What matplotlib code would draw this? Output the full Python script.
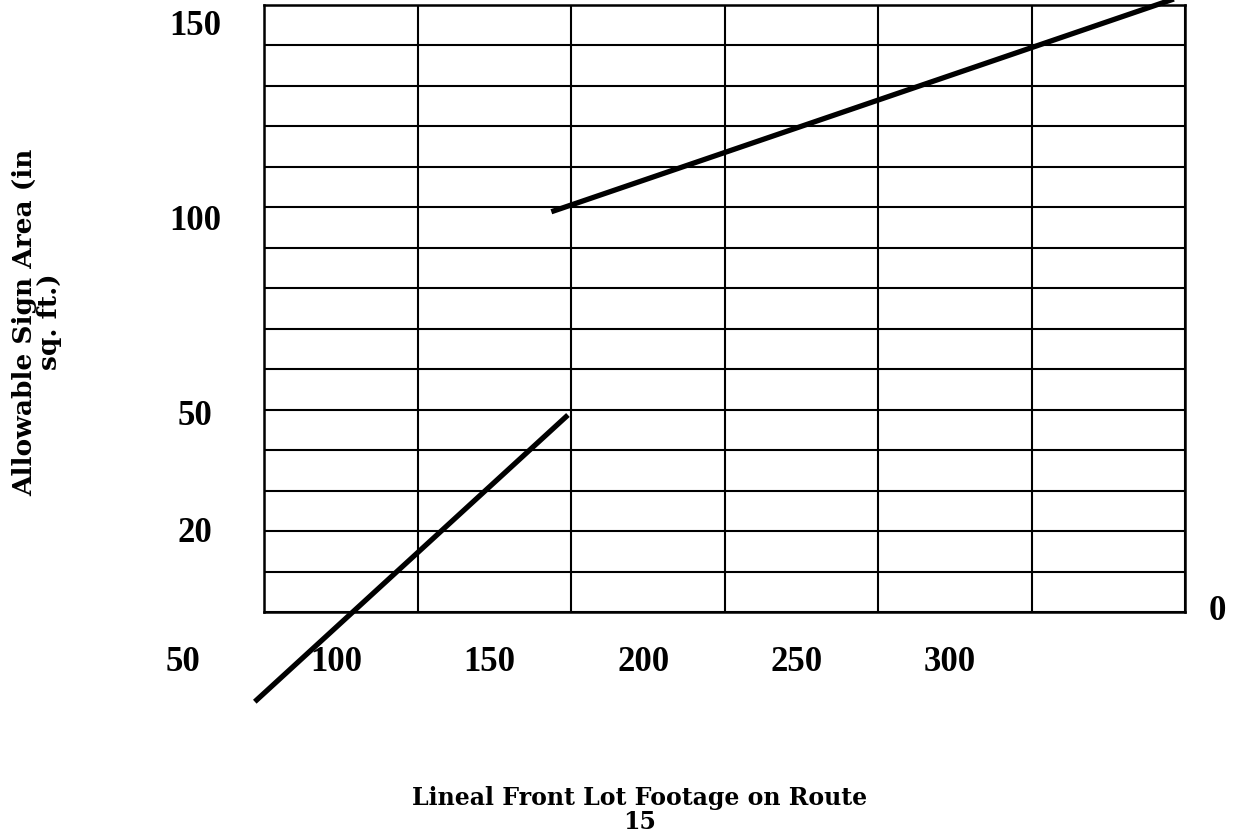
import matplotlib.pyplot as plt
import matplotlib.transforms as mtransforms
import numpy as np

# tick labels as printed on the chart
x_labels = [50, 100, 150, 200, 250, 300]
y_labels = [150, 100, 50, 20]
right_label = 0

# the two line segments (lot footage, sign area)
seg1_x = [72, 174]
seg1_y = [-23, 50.5]
seg2_x = [168.6, 382]
seg2_y = [102.6, 160]

x_min, x_max = 75, 375
y_min, y_max = 0, 155.6

fig = plt.figure(figsize=(12.33, 8.34), dpi=100)
ax = fig.add_axes([264 / 1233, 1 - 612 / 834, 921 / 1233, 607 / 834])
ax.set_xlim(x_min, x_max)
ax.set_ylim(y_min, y_max)

# grid: 6 columns, 15 rows
ax.set_xticks(np.arange(x_min, x_max + 1, 50))
ax.set_yticks(np.linspace(y_min, y_max, 16))
ax.grid(True, color='black', linewidth=1.5)
ax.tick_params(length=0, labelbottom=False, labelleft=False)
for s in ax.spines.values():
    s.set_linewidth(1.8)
    s.set_color('black')

ax.plot(seg1_x, seg1_y, color='black', linewidth=3.8, solid_capstyle='butt', clip_on=False)
ax.plot(seg2_x, seg2_y, color='black', linewidth=3.8, solid_capstyle='butt', clip_on=False)

tick_font = dict(family='Liberation Serif', fontweight='bold', fontsize=25)
bx = mtransforms.blended_transform_factory(ax.transData, ax.transAxes)
by = mtransforms.blended_transform_factory(ax.transAxes, ax.transData)
for v in x_labels:
    ax.text(v - 1.5, -0.084, str(v), transform=bx, ha='center', va='center', **tick_font)
for v in y_labels:
    ax.text(-0.075, v, str(v), transform=by, ha='center', va='center', **tick_font)
ax.text(1.035, right_label, str(right_label), transform=by, ha='center', va='center', **tick_font)

label_font = dict(family='DejaVu Serif', fontweight='bold')
fig.text(640 / 1233, 1 - 810 / 834, 'Lineal Front Lot Footage on Route\n15',
         ha='center', va='center', fontsize=17, linespacing=0.95, **label_font)
fig.text(37 / 1233, 1 - 322 / 834, 'Allowable Sign Area (in\nsq. ft.)',
         ha='center', va='center', rotation=90, fontsize=19, linespacing=0.95, **label_font)

fig.savefig('out.png', dpi=100)
